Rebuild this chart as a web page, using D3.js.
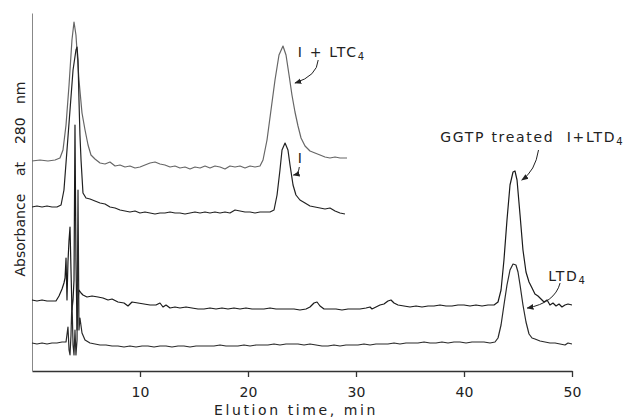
<!DOCTYPE html>
<html>
  <head>
    <meta charset="utf-8" />
    <style>
      body { margin: 0; background: #fff; }
      svg text { font-family: "DejaVu Sans", sans-serif; fill: #222; white-space: pre; }
    </style>
  </head>
  <body>

<svg id="graph"></svg>

<script src="https://d3js.org/d3.v7.min.js"></script>
<script>
  const WIDTH = 638;
  const HEIGHT = 420;

  // elution time (min), absorbance (arbitrary units, offset traces)
  const TRACE_LTC4 = [
    [0.00,2.10],[0.74,2.11],[1.48,2.10],[2.13,2.11],[2.59,2.13],[2.87,2.21],[3.15,2.46],[3.43,2.86],
    [3.70,3.31],[3.89,3.49],[4.07,3.36],[4.35,2.91],[4.63,2.58],[4.91,2.41],[5.19,2.26],[5.46,2.16],
    [5.83,2.12],[6.30,2.08],[6.76,2.07],[7.22,2.09],[7.69,2.05],[8.15,2.06],[8.61,2.04],[9.07,2.05],
    [9.54,2.03],[10.00,2.04],[10.46,2.06],[10.93,2.08],[11.39,2.09],[11.85,2.07],[12.31,2.06],[12.78,2.04],
    [13.24,2.05],[13.70,2.03],[14.17,2.04],[14.63,2.02],[15.09,2.04],[15.56,2.03],[16.02,2.05],[16.48,2.03],
    [16.94,2.05],[17.41,2.04],[17.87,2.02],[18.33,2.05],[18.80,2.04],[19.26,2.05],[19.72,2.03],[20.19,2.05],
    [20.65,2.04],[21.11,2.05],[21.39,2.11],[21.76,2.31],[22.13,2.61],[22.50,2.91],[22.87,3.16],[23.24,3.25],
    [23.52,3.16],[23.80,2.96],[24.07,2.76],[24.35,2.59],[24.63,2.45],[24.91,2.33],[25.28,2.25],[25.74,2.20],
    [26.20,2.18],[26.67,2.16],[27.13,2.14],[27.59,2.13],[28.06,2.14],[28.52,2.13],[29.17,2.13]
  ];

  const TRACE_I = [
    [0.00,1.64],[0.46,1.65],[0.93,1.64],[1.39,1.65],[1.85,1.64],[2.31,1.64],[2.69,1.66],[2.96,1.81],
    [3.24,2.21],[3.52,2.61],[3.80,3.01],[4.07,3.21],[4.17,3.24],[4.26,3.11],[4.35,2.71],[4.44,2.36],
    [4.54,2.11],[4.72,1.78],[5.00,1.73],[5.37,1.72],[5.83,1.70],[6.30,1.68],[6.76,1.67],[7.22,1.64],
    [7.69,1.63],[8.15,1.61],[8.61,1.60],[9.07,1.59],[9.54,1.60],[10.00,1.58],[10.46,1.59],[10.93,1.58],
    [11.39,1.57],[11.85,1.58],[12.31,1.58],[12.78,1.59],[13.24,1.58],[13.70,1.58],[14.17,1.57],[14.63,1.58],
    [15.09,1.59],[15.56,1.58],[16.02,1.59],[16.48,1.58],[16.94,1.59],[17.41,1.58],[17.87,1.59],[18.33,1.58],
    [18.80,1.61],[19.26,1.60],[19.72,1.59],[20.19,1.59],[20.65,1.58],[21.11,1.59],[21.57,1.59],[22.04,1.59],
    [22.41,1.61],[22.69,1.76],[22.96,2.01],[23.15,2.21],[23.43,2.28],[23.70,2.21],[23.89,2.06],[24.17,1.86],
    [24.44,1.76],[24.81,1.71],[25.28,1.68],[25.74,1.65],[26.20,1.64],[26.67,1.63],[27.13,1.62],[27.59,1.63],
    [28.06,1.60],[28.52,1.58],[28.98,1.57]
  ];

  const TRACE_GGTP = [
    [0.00,0.71],[0.46,0.70],[0.93,0.71],[1.39,0.70],[1.85,0.70],[2.22,0.70],[2.50,0.75],[2.78,0.82],
    [2.96,0.88],[3.06,0.93],[3.15,1.13],[3.24,0.71],[3.33,1.09],[3.43,1.31],[3.52,1.44],[3.61,1.01],
    [3.70,0.61],[3.80,0.71],[3.89,0.91],[3.98,2.46],[4.07,1.11],[4.17,0.41],[4.26,0.71],[4.35,0.81],
    [4.54,0.78],[4.72,0.76],[5.09,0.74],[5.56,0.75],[6.11,0.74],[6.57,0.73],[7.04,0.71],[7.41,0.72],
    [7.96,0.69],[8.52,0.68],[8.89,0.65],[9.26,0.69],[9.81,0.68],[10.37,0.67],[10.93,0.66],[11.48,0.66],
    [11.85,0.68],[12.13,0.64],[12.41,0.66],[12.78,0.63],[13.24,0.64],[13.70,0.63],[14.26,0.64],[14.81,0.63],
    [15.37,0.62],[15.93,0.62],[16.48,0.63],[17.04,0.62],[17.59,0.63],[18.15,0.62],[18.70,0.63],[19.26,0.62],
    [19.81,0.63],[20.37,0.62],[20.93,0.62],[21.48,0.62],[22.04,0.63],[22.59,0.62],[23.15,0.62],[23.70,0.62],
    [24.26,0.62],[24.81,0.61],[25.37,0.62],[25.74,0.64],[26.11,0.68],[26.39,0.69],[26.67,0.65],[27.04,0.62],
    [27.59,0.62],[28.15,0.62],[28.70,0.61],[29.26,0.62],[29.81,0.62],[30.37,0.62],[30.93,0.63],[31.30,0.64],
    [31.48,0.62],[31.85,0.64],[32.22,0.66],[32.59,0.67],[32.96,0.70],[33.24,0.71],[33.52,0.68],[33.89,0.66],
    [34.44,0.65],[35.00,0.64],[35.56,0.65],[36.11,0.64],[36.67,0.65],[37.22,0.65],[37.78,0.66],[38.33,0.65],
    [38.89,0.65],[39.44,0.66],[40.00,0.66],[40.56,0.65],[41.11,0.66],[41.67,0.65],[42.22,0.66],[42.78,0.66],
    [43.15,0.69],[43.43,0.81],[43.70,1.11],[43.98,1.51],[44.26,1.86],[44.54,1.99],[44.72,2.00],[44.91,1.91],
    [45.19,1.56],[45.46,1.21],[45.74,0.99],[46.02,0.89],[46.30,0.83],[46.57,0.77],[46.85,0.75],[47.13,0.72],
    [47.41,0.69],[47.69,0.71],[47.96,0.66],[48.24,0.68],[48.52,0.65],[48.80,0.67],[49.07,0.64],[49.35,0.66],
    [49.63,0.67],[50.00,0.66]
  ];

  const TRACE_LTD4 = [
    [0.00,0.28],[0.46,0.27],[0.93,0.28],[1.39,0.27],[1.85,0.28],[2.31,0.28],[2.78,0.29],[3.15,0.29],
    [3.33,0.44],[3.43,0.21],[3.52,0.16],[3.61,0.36],[3.70,0.71],[3.80,0.26],[3.89,0.16],[3.98,0.41],
    [4.07,0.16],[4.17,0.31],[4.26,1.81],[4.35,0.41],[4.44,0.53],[4.63,0.38],[4.91,0.31],[5.37,0.28],
    [5.83,0.27],[6.30,0.26],[6.85,0.26],[7.41,0.25],[7.96,0.25],[8.52,0.24],[9.07,0.25],[9.63,0.24],
    [10.19,0.25],[10.74,0.25],[11.30,0.24],[11.85,0.25],[12.41,0.25],[12.96,0.24],[13.52,0.25],[14.07,0.25],
    [14.63,0.24],[15.19,0.25],[15.74,0.25],[16.30,0.25],[16.85,0.25],[17.41,0.26],[17.96,0.25],[18.52,0.25],
    [19.07,0.25],[19.63,0.26],[20.19,0.25],[20.74,0.26],[21.30,0.26],[21.85,0.26],[22.41,0.27],[22.96,0.26],
    [23.52,0.27],[24.07,0.27],[24.63,0.27],[25.19,0.26],[25.74,0.27],[26.30,0.26],[26.85,0.25],[27.41,0.25],
    [27.96,0.26],[28.52,0.25],[29.07,0.26],[29.63,0.26],[30.19,0.26],[30.74,0.27],[31.30,0.26],[31.85,0.27],
    [32.41,0.27],[32.96,0.27],[33.52,0.28],[34.07,0.27],[34.63,0.28],[35.19,0.28],[35.74,0.28],[36.30,0.29],
    [36.85,0.28],[37.41,0.28],[37.96,0.29],[38.52,0.28],[39.07,0.29],[39.63,0.29],[40.19,0.28],[40.74,0.29],
    [41.30,0.29],[41.85,0.29],[42.41,0.28],[42.87,0.29],[43.15,0.33],[43.43,0.46],[43.70,0.66],[43.98,0.86],
    [44.26,1.01],[44.54,1.07],[44.81,1.06],[45.00,0.99],[45.19,0.86],[45.46,0.66],[45.74,0.49],[46.02,0.37],
    [46.30,0.33],[46.57,0.32],[47.04,0.30],[47.50,0.29],[47.96,0.28],[48.43,0.28],[48.89,0.27],[49.35,0.26],
    [49.63,0.28],[50.00,0.27]
  ];

  const X_TICKS = [10, 20, 30, 40, 50];

  // label text, anchor (time, absorbance), arrow from / ctrl / to (time, absorbance)
  const LABELS = [
    { main: 'I + LTC', sub: '4', t: 24.6, v: 3.14, from: [26.5, 3.11], ctrl: [26.4, 2.95], to: [24.35, 2.88] },
    { main: 'I', sub: '', t: 24.6, v: 2.08, from: [24.75, 2.04], ctrl: [24.7, 1.97], to: [24.2, 1.96] },
    { main: 'GGTP treated  I+LTD', sub: '4', t: 37.8, v: 2.29, from: [46.9, 2.21], ctrl: [46.6, 2.0], to: [45.35, 1.91] },
    { main: 'LTD', sub: '4', t: 47.8, v: 0.90, from: [48.9, 0.88], ctrl: [48.4, 0.68], to: [45.85, 0.63] }
  ];

  const svg = d3.select('#graph').attr('width', WIDTH).attr('height', HEIGHT);

  const x = d3.scaleLinear().domain([0, 50]).range([32, 572]);
  const y = d3.scaleLinear().domain([0, 3.58]).range([371, 13]);

  // axes
  svg.append('g')
    .attr('transform', `translate(0,${y(0)})`)
    .call(d3.axisBottom(x).tickValues(X_TICKS).tickSize(6).tickSizeOuter(0).tickPadding(10))
    .call(g => g.select('.domain').attr('stroke', '#333').attr('stroke-width', 1.6))
    .call(g => g.selectAll('.tick line').attr('stroke', '#333').attr('stroke-width', 1.3))
    .call(g => g.selectAll('.tick text').attr('font-size', 14).attr('font-family', '"DejaVu Sans", sans-serif').attr('fill', '#222'));

  svg.append('g')
    .attr('transform', `translate(${x(0)},0)`)
    .call(d3.axisLeft(y).tickValues([]).tickSizeOuter(0))
    .call(g => g.select('.domain').attr('stroke', '#888').attr('stroke-width', 1));

  svg.append('text')
    .attr('x', 296).attr('y', 415)
    .attr('text-anchor', 'middle')
    .attr('font-size', 14)
    .attr('letter-spacing', 2.6)
    .text('Elution time, min');

  svg.append('text')
    .attr('transform', 'translate(25,179) rotate(-90)')
    .attr('text-anchor', 'middle')
    .attr('font-size', 14)
    .text('Absorbance    at    280   nm');

  // traces
  const line = d3.line().x(d => x(d[0])).y(d => y(d[1]));
  const TRACES = [
    { data: TRACE_LTC4, color: '#666' },
    { data: TRACE_I, color: '#222' },
    { data: TRACE_GGTP, color: '#1a1a1a' },
    { data: TRACE_LTD4, color: '#2a2a2a' }
  ];
  svg.selectAll('path.trace')
    .data(TRACES)
    .enter()
    .append('path')
    .attr('class', 'trace')
    .attr('d', d => line(d.data))
    .attr('fill', 'none')
    .attr('stroke', d => d.color)
    .attr('stroke-width', 1.2)
    .attr('stroke-linejoin', 'round');

  // labels with curved arrows
  svg.append('defs').append('marker')
    .attr('id', 'arr')
    .attr('viewBox', '0 0 10 10')
    .attr('refX', 9).attr('refY', 5)
    .attr('markerWidth', 7).attr('markerHeight', 7)
    .attr('markerUnits', 'userSpaceOnUse')
    .attr('orient', 'auto')
    .append('path').attr('d', 'M0,1 L10,5 L0,9 Z').attr('fill', '#222');

  LABELS.forEach(l => {
    const t = svg.append('text')
      .attr('x', x(l.t)).attr('y', y(l.v))
      .attr('font-size', 14)
      .attr('letter-spacing', 1.7);
    t.append('tspan').text(l.main);
    if (l.sub) t.append('tspan').attr('font-size', 10).attr('dy', 3).text(l.sub);

    const p = d3.path();
    p.moveTo(x(l.from[0]), y(l.from[1]));
    p.quadraticCurveTo(x(l.ctrl[0]), y(l.ctrl[1]), x(l.to[0]), y(l.to[1]));
    svg.append('path')
      .attr('d', p.toString())
      .attr('fill', 'none')
      .attr('stroke', '#222')
      .attr('stroke-width', 1)
      .attr('marker-end', 'url(#arr)');
  });
</script>
  </body>
</html>
